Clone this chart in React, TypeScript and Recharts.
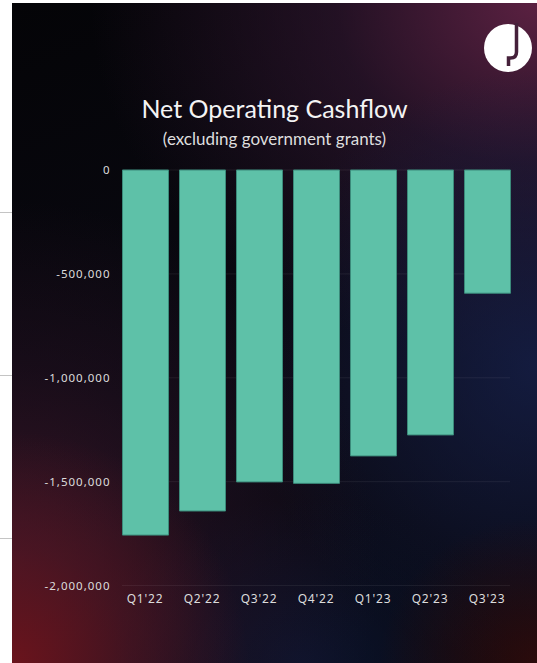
import React from "react";
import { BarChart, Bar, XAxis, YAxis, CartesianGrid } from "recharts";

const quarters = ["Q1'22", "Q2'22", "Q3'22", "Q4'22", "Q1'23", "Q2'23", "Q3'23"];
const cashflow = [-1757000, -1641000, -1501000, -1508000, -1376000, -1275000, -593000];
const yTicks = [0, -500000, -1000000, -1500000, -2000000];

const data = quarters.map((q, i) => ({ quarter: q, value: cashflow[i] }));

const fmt = (v: number) => v.toLocaleString("en-US");

const background = [
  "radial-gradient(ellipse 30% 22% at 100% 100%, rgba(55,12,10,0.75) 0%, rgba(0,0,0,0) 100%)",
  "radial-gradient(ellipse 45% 35% at 0% 100%, rgba(110,20,28,0.95) 0%, rgba(90,22,34,0.55) 50%, rgba(0,0,0,0) 100%)",
  "radial-gradient(ellipse 70% 55% at 0% 85%, rgba(70,24,42,0.75) 0%, rgba(50,20,40,0.35) 55%, rgba(0,0,0,0) 100%)",
  "radial-gradient(ellipse 40% 25% at 55% 100%, rgba(12,22,50,0.85) 0%, rgba(0,0,0,0) 100%)",
  "radial-gradient(ellipse 55% 45% at 100% 55%, rgba(22,32,74,0.8) 0%, rgba(0,0,0,0) 100%)",
  "radial-gradient(ellipse 85% 55% at 100% 0%, rgba(95,34,68,0.95) 0%, rgba(58,26,56,0.55) 45%, rgba(0,0,0,0) 100%)",
  "linear-gradient(160deg, #040407 0%, #0b0a14 60%, #070810 100%)",
].join(",");

const GridLine = (p: any) => (
  <line
    key={`g-${p.index}-${p.y1}`}
    x1={p.x1 + 5.5}
    x2={p.x2 - 5.5}
    y1={p.y1}
    y2={p.y2}
    stroke="rgba(255,255,255,0.07)"
    strokeWidth={1}
  />
);

export default function App() {
  return (
    <div style={{ position: "absolute", left: 0, top: 0, width: 537, height: 663, background: "#ffffff", overflow: "hidden" }}>
      {[212, 375, 538].map((y) => (
        <div key={y} style={{ position: "absolute", left: 0, top: y, width: 12, height: 1, background: "#c4c4c4" }} />
      ))}
      <div style={{ position: "absolute", left: 12, top: 3, width: 525, height: 660, background }} />
      <svg width={537} height={663} style={{ position: "absolute", left: 0, top: 0 }}>
        <circle cx={508} cy={48} r={24} fill="#ffffff" />
        <path d="M516.5 23 L516.5 52 Q516.5 58 510.5 58 L508.5 58 L508.5 66" stroke="#45203a" strokeWidth={3.5} fill="none" />
      </svg>
      <div
        style={{
          position: "absolute",
          left: 12,
          width: 525,
          top: 93,
          textAlign: "center",
          fontFamily: "Lato, 'Noto Sans', sans-serif",
          color: "#f4f4f4",
          fontSize: 25,
          lineHeight: "30px",
          boxSizing: "border-box",
        }}
      >
        Net Operating Cashflow
      </div>
      <div
        style={{
          position: "absolute",
          left: 12,
          width: 525,
          top: 128,
          textAlign: "center",
          fontFamily: "Lato, 'Noto Sans', sans-serif",
          color: "#dedede",
          fontSize: 17,
          lineHeight: "22px",
          boxSizing: "border-box",
        }}
      >
        (excluding government grants)
      </div>
      <div style={{ position: "absolute", left: 0, top: 0 }}>
        <BarChart
          width={537}
          height={663}
          data={data}
          margin={{ top: 170, right: 21.5, bottom: 47.4, left: 56.5 }}
        >
          <CartesianGrid vertical={false} horizontal={GridLine as any} />
          <XAxis
            dataKey="quarter"
            axisLine={false}
            tickLine={false}
            tickSize={0}
            tickMargin={9}
            height={30}
            interval={0}
            tick={{ fill: "#dcdcdc", fontSize: 12, letterSpacing: 0.8, fontFamily: "'Noto Sans', sans-serif" }}
          />
          <YAxis
            type="number"
            domain={[-2000000, 0]}
            ticks={yTicks}
            tickFormatter={fmt}
            axisLine={false}
            tickLine={false}
            tickSize={0}
            tickMargin={6}
            width={60}
            interval={0}
            tick={{ fill: "#dcdcdc", fontSize: 11.5, letterSpacing: 1, fontFamily: "'Noto Sans', sans-serif" }}
          />
          <Bar dataKey="value" fill="#5ec1a8" stroke="#3b8a7a" strokeWidth={1} barSize={46} isAnimationActive={false} />
        </BarChart>
      </div>
    </div>
  );
}
